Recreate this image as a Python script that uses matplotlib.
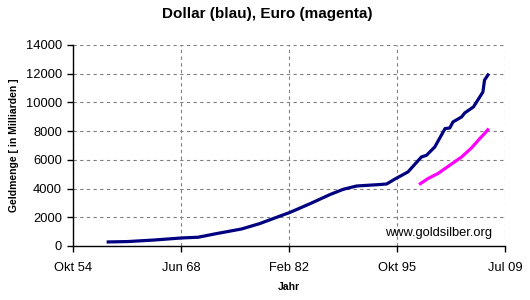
import datetime as dt
import matplotlib
matplotlib.use("Agg")
import matplotlib.pyplot as plt

plt.rcParams['font.family'] = ['Liberation Sans', 'DejaVu Sans']

# Dollar money supply (blue), decimal years
dollar_years = [1959.0, 1961.7, 1965.1, 1968.5, 1970.6, 1972.7, 1976.1, 1978.4,
                1981.0, 1982.2, 1984.8, 1987.3, 1989.0, 1990.7, 1993.6, 1994.5,
                1995.5, 1997.2, 1998.9, 1999.55, 2000.6, 2001.9, 2002.5, 2002.9,
                2004.0, 2004.4, 2005.5, 2006.3, 2006.7, 2006.9, 2007.45]
dollar_vals = [280, 310, 420, 560, 610, 840, 1185, 1560,
               2090, 2330, 2950, 3580, 3950, 4180, 4280, 4320,
               4650, 5160, 6200, 6320, 6900, 8180, 8220, 8640,
               8990, 9270, 9690, 10380, 10730, 11550, 12010]

# Euro money supply (magenta)
euro_years = [1998.6, 1999.75, 2001.0, 2002.3, 2004.0, 2005.25, 2006.3, 2006.9, 2007.45]
euro_vals = [4280, 4700, 5050, 5550, 6200, 6830, 7480, 7830, 8180]

# x axis ticks: Excel serial days 20000..40000 step 5000
tick_serials = [20000, 25000, 30000, 35000, 40000]
tick_labels = ["Okt 54", "Jun 68", "Feb 82", "Okt 95", "Jul 09"]
y_ticks = [0, 2000, 4000, 6000, 8000, 10000, 12000, 14000]


def year_to_date(y):
    yr = int(y)
    return dt.datetime(yr, 1, 1) + dt.timedelta(days=(y - yr) * 365.25)


def serial_to_date(s):
    return dt.datetime(1899, 12, 30) + dt.timedelta(days=s)


fig = plt.figure(figsize=(5.3, 3.0), dpi=100)
ax = fig.add_axes([0.138, 0.18, 0.815, 0.67])

ax.plot([year_to_date(y) for y in dollar_years], dollar_vals, color='#000080', lw=2.3,
        solid_capstyle='butt')
ax.plot([year_to_date(y) for y in euro_years], euro_vals, color='#FF00FF', lw=2.3,
        solid_capstyle='butt')

ticks = [serial_to_date(s) for s in tick_serials]
ax.set_xlim(ticks[0], ticks[-1])
ax.set_xticks(ticks)
ax.set_xticklabels(tick_labels)
ax.set_ylim(0, 14000)
ax.set_yticks(y_ticks)

ax.grid(True, color='#808080', ls=(0, (3, 3)), lw=0.8)
for s in ['top', 'right']:
    ax.spines[s].set_visible(False)
for s in ['left', 'bottom']:
    ax.spines[s].set_color('black')
    ax.spines[s].set_linewidth(1.0)
ax.tick_params(axis='both', direction='out', length=4.5, width=1, labelsize=9.3, colors='black')
ax.tick_params(axis='x', pad=7)

fig.text(0.505, 0.952, "Dollar (blau), Euro (magenta)", ha='center', va='center',
         fontsize=11, fontweight='bold')
ax.set_xlabel("Jahr", fontsize=7.5, fontweight='bold', labelpad=6)
ax.set_ylabel("Geldmenge [ in Milliarden ]", fontsize=7.5, fontweight='bold', labelpad=5)

ax.text(0.97, 0.065, "www.goldsilber.org", transform=ax.transAxes, ha='right', va='center',
        fontsize=9.3)

fig.savefig("out.png", dpi=100)
